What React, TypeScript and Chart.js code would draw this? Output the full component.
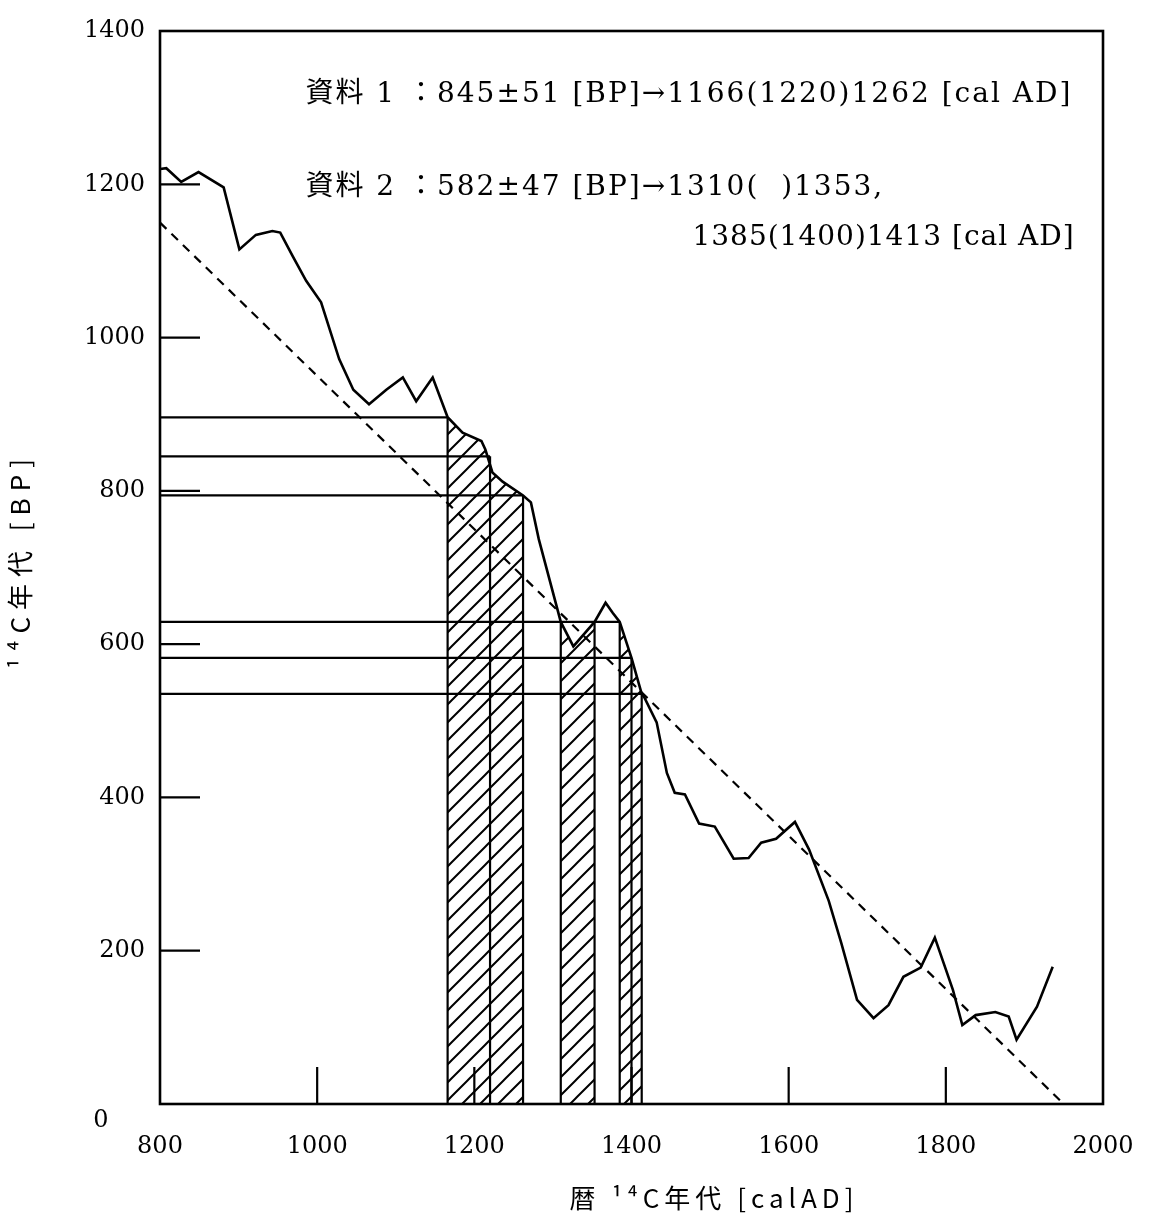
import React, { useEffect, useRef } from 'react';
import { Chart, registerables, Plugin } from 'chart.js';

Chart.register(...registerables);

// calibration curve: cal AD -> 14C age BP
const curveAD = [
  800, 808, 827, 849, 881, 901, 922, 943, 953, 969, 986, 1005, 1028, 1046, 1066, 1088, 1109, 1126, 1147,
  1166, 1185, 1209, 1214, 1223, 1236, 1262, 1272, 1282, 1310, 1326, 1353, 1367, 1376, 1385, 1400, 1413,
  1416, 1432, 1445, 1455, 1468, 1486, 1506, 1530, 1549, 1565, 1584, 1608, 1626, 1651, 1667, 1687, 1708,
  1727, 1746, 1768, 1786, 1809, 1821, 1838, 1863, 1880, 1890, 1916, 1936,
];
const curveBP = [
  1220, 1221, 1203, 1216, 1196, 1115, 1134, 1139, 1137, 1106, 1074, 1046, 972, 932, 913, 932, 948, 917, 948,
  896, 876, 865, 854, 824, 812, 794, 785, 737, 629, 597, 629, 654, 641, 629, 582, 535,
  531, 498, 432, 406, 404, 366, 362, 320, 321, 341, 346, 368, 332, 265, 210, 136, 112,
  129, 166, 178, 217, 149, 103, 116, 120, 114, 84, 127, 179,
];

// sample levels (+1σ, mean, -1σ) and where they meet the curve
const levelBP = [896, 845, 794, 629, 582, 535];
const levelEndAD = [1166, 1220, 1262, 1385, 1400, 1413];

// drop lines from the levels down to the axis
const dropAD = [1166, 1220, 1262, 1310, 1353, 1385, 1400, 1413];
const dropTopBP = [896, 845, 794, 629, 629, 629, 582, 535];

// hatched calendar ranges
const hatchFrom = [1166, 1310, 1385];
const hatchTo = [1262, 1353, 1413];

// BP = 1950 - AD
const diagAD = [800, 1950];
const diagBP = [1150, 0];

const xTickMarks = [1000, 1200, 1400, 1600, 1800];
const yTickMarks = [200, 400, 600, 800, 1000, 1200];

const noteLines = [
  '資料 1 ：845±51 [BP]→1166(1220)1262 [cal AD]',
  '資料 2 ：582±47 [BP]→1310(  )1353,',
  '1385(1400)1413 [cal AD]',
];
const xTitle = '暦 ¹⁴C年代 [calAD]';
const yTitle = '¹⁴C年代 [BP]';

const SERIF = '"DejaVu Serif", "Noto Sans CJK JP", serif';
const SANS = '"Noto Sans CJK JP", "DejaVu Sans", sans-serif';

const pts = (xs: number[], ys: number[]) => xs.map((x, i) => ({ x, y: ys[i] }));

function makeHatch(): CanvasPattern | string {
  const c = document.createElement('canvas');
  c.width = c.height = 18;
  const g = c.getContext('2d');
  if (!g) return 'rgba(0,0,0,0.2)';
  g.strokeStyle = '#000';
  g.lineWidth = 2;
  g.beginPath();
  g.moveTo(-2, 20); g.lineTo(20, -2);
  g.moveTo(-2, 2); g.lineTo(2, -2);
  g.moveTo(16, 20); g.lineTo(20, 16);
  g.stroke();
  return g.createPattern(c, 'repeat') || '#888';
}

const decor: Plugin<'line'> = {
  id: 'decor',
  afterDraw(chart) {
    const { ctx, chartArea: a, scales: { x, y } } = chart;
    const c = ctx as any;
    ctx.save();
    ctx.strokeStyle = '#000';
    ctx.lineWidth = 2.2;
    ctx.beginPath();
    xTickMarks.forEach(v => {
      const px = x.getPixelForValue(v);
      ctx.moveTo(px, a.bottom);
      ctx.lineTo(px, a.bottom - 37);
    });
    yTickMarks.forEach(v => {
      const py = y.getPixelForValue(v);
      ctx.moveTo(a.left, py);
      ctx.lineTo(a.left + 40, py);
    });
    ctx.stroke();
    ctx.lineWidth = 2.6;
    ctx.strokeRect(a.left, a.top, a.right - a.left, a.bottom - a.top);

    ctx.fillStyle = '#000';
    ctx.textBaseline = 'middle';
    ctx.font = `28px ${SERIF}`;
    c.letterSpacing = '2px';
    ctx.textAlign = 'left';
    ctx.fillText(noteLines[0], x.getPixelForValue(985), y.getPixelForValue(1317));
    ctx.fillText(noteLines[1], x.getPixelForValue(985), y.getPixelForValue(1195));
    ctx.textAlign = 'right';
    c.letterSpacing = '1px';
    ctx.fillText(noteLines[2], x.getPixelForValue(1964), y.getPixelForValue(1130));

    ctx.font = `26px ${SANS}`;
    c.letterSpacing = '5px';
    ctx.textAlign = 'center';
    ctx.fillText(xTitle, x.getPixelForValue(1505), a.bottom + 94);
    ctx.save();
    ctx.translate(20, (a.top + a.bottom) / 2 - 7);
    ctx.rotate(-Math.PI / 2);
    c.letterSpacing = '7px';
    ctx.fillText(yTitle, 0, 0);
    ctx.restore();

    c.letterSpacing = '0px';
    ctx.font = `24px ${SERIF}`;
    ctx.fillText('0', a.left - 59, y.getPixelForValue(0) + 17);
    ctx.restore();
  },
};

const CalibrationChart = () => {
  const chartRef = useRef<HTMLCanvasElement>(null);

  useEffect(() => {
    if (!chartRef.current) return;
    const ctx = chartRef.current.getContext('2d');
    if (!ctx) return;

    Chart.defaults.font.family = SERIF;
    Chart.defaults.color = '#000';

    const hatch = makeHatch();
    const curve = pts(curveAD, curveBP);
    const thin = { borderColor: '#000', borderWidth: 2.2, pointRadius: 0, fill: false };

    const datasets: any[] = [
      { ...thin, data: curve, borderWidth: 2.6 },
      { ...thin, data: pts(diagAD, diagBP), borderWidth: 2.2, borderDash: [9, 7] },
      ...levelBP.map((bp, i) => ({ ...thin, data: [{ x: 800, y: bp }, { x: levelEndAD[i], y: bp }] })),
      ...dropAD.map((ad, i) => ({ ...thin, data: [{ x: ad, y: 0 }, { x: ad, y: dropTopBP[i] }] })),
      ...hatchFrom.map((from, i) => ({
        data: curve.filter(p => p.x >= from && p.x <= hatchTo[i]),
        borderWidth: 0,
        pointRadius: 0,
        fill: 'origin',
        backgroundColor: hatch,
      })),
    ];

    const myChart = new Chart(ctx, {
      type: 'line',
      data: { datasets },
      options: {
        animation: false,
        responsive: true,
        maintainAspectRatio: false,
        layout: { padding: { top: 31, right: 52, left: 0, bottom: 0 } },
        elements: { line: { tension: 0 } },
        plugins: { legend: { display: false }, tooltip: { enabled: false } },
        scales: {
          x: {
            type: 'linear',
            min: 800,
            max: 2000,
            grid: { display: false, drawTicks: false },
            border: { display: false },
            ticks: { stepSize: 200, padding: 28, font: { size: 24 }, maxRotation: 0, callback: (v: any) => String(v) },
            afterFit: (s: any) => { s.height = 112; s.paddingLeft = 0; s.paddingRight = 0; },
          },
          y: {
            type: 'linear',
            min: 0,
            max: 1400,
            grid: { display: false, drawTicks: false },
            border: { display: false },
            ticks: {
              stepSize: 200,
              padding: 15,
              font: { size: 24 },
              callback: (v: any) => (v === 0 ? '' : String(v)),
            },
            afterFit: (s: any) => { s.width = 160; },
          },
        },
      },
      plugins: [decor],
    });

    return () => myChart.destroy();
  }, []);

  return (
    <div style={{ position: 'absolute', left: 0, top: 0, width: 1155, height: 1216, background: '#fff' }}>
      <canvas ref={chartRef} />
    </div>
  );
};

export default function App() {
  return <CalibrationChart />;
}
